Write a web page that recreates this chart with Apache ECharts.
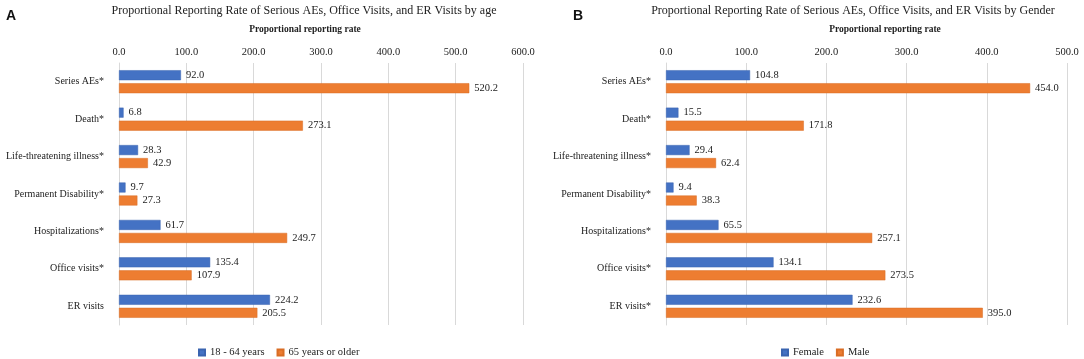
<!DOCTYPE html>
<html>
<head>
<meta charset="utf-8">
<script src="https://cdn.jsdelivr.net/npm/echarts@6/dist/echarts.min.js"></script>
<style>html,body{margin:0;padding:0;background:#fff;}#c{width:1084px;height:359px;}</style>
</head>
<body>
<div id="c"></div>
<script>
const categoriesA = ['Series AEs*', 'Death*', 'Life-threatening illness*', 'Permanent Disability*', 'Hospitalizations*', 'Office visits*', 'ER visits'];
const categoriesB = ['Series AEs*', 'Death*', 'Life-threatening illness*', 'Permanent Disability*', 'Hospitalizations*', 'Office visits*', 'ER visits*'];
const age18to64 = [92.0, 6.8, 28.3, 9.7, 61.7, 135.4, 224.2];
const age65plus = [520.2, 273.1, 42.9, 27.3, 249.7, 107.9, 205.5];
const female = [104.8, 15.5, 29.4, 9.4, 65.5, 134.1, 232.6];
const male = [454.0, 171.8, 62.4, 38.3, 257.1, 273.5, 395.0];
const ticksA = [0, 100, 200, 300, 400, 500, 600];
const ticksB = [0, 100, 200, 300, 400, 500];

const serif = 'Liberation Serif';
const blue = '#4472C4', orange = '#ED7D31';
const txt = '#222';

function xAx(idx, ticks) {
  return {
    type: 'value', gridIndex: idx, position: 'top', min: ticks[0], max: ticks[ticks.length - 1], interval: ticks[1] - ticks[0],
    axisLine: {show: false}, axisTick: {show: false},
    axisLabel: {fontFamily: serif, fontSize: 10.5, color: txt, margin: 5, formatter: v => v.toFixed(1)},
    splitLine: {lineStyle: {color: '#d9d9d9', width: 1}}
  };
}
function yAx(idx, cats) {
  return {
    type: 'category', gridIndex: idx, data: cats, inverse: true,
    axisLine: {show: true, lineStyle: {color: '#d9d9d9'}}, axisTick: {show: false},
    axisLabel: {fontFamily: serif, fontSize: 10, color: txt, margin: 15}
  };
}
function bar(name, data, color, idx) {
  return {
    name: name, type: 'bar', xAxisIndex: idx, yAxisIndex: idx, data: data,
    barWidth: 10, barGap: '30%',
    itemStyle: {color: color, borderColor: color === blue ? '#3a64b0' : '#d96d24', borderWidth: 0.5},
    label: {show: true, position: 'right', distance: 5, fontFamily: serif, fontSize: 10.5, color: txt,
      formatter: p => p.value.toFixed(1)}
  };
}

const chart = echarts.init(document.getElementById('c'), null, {renderer: 'canvas'});
chart.setOption({
  animation: false,
  backgroundColor: '#fff',
  title: [
    {text: 'A', left: 1, top: 4, textStyle: {fontFamily: 'Liberation Sans', fontWeight: 'bold', fontSize: 14, color: '#111'}},
    {text: 'B', left: 568, top: 4, textStyle: {fontFamily: 'Liberation Sans', fontWeight: 'bold', fontSize: 14, color: '#111'}},
    {text: 'Proportional Reporting Rate of Serious AEs, Office Visits, and ER Visits by age', left: 299, textAlign: 'center', top: 0,
      textStyle: {fontFamily: serif, fontWeight: 'normal', fontSize: 12, color: txt}},
    {text: 'Proportional Reporting Rate of Serious AEs, Office Visits, and ER Visits by Gender', left: 848, textAlign: 'center', top: 0,
      textStyle: {fontFamily: serif, fontWeight: 'normal', fontSize: 12, color: txt}},
    {text: 'Proportional reporting rate', left: 300, textAlign: 'center', top: 20,
      textStyle: {fontFamily: serif, fontWeight: 'bold', fontSize: 9.5, color: txt}},
    {text: 'Proportional reporting rate', left: 880, textAlign: 'center', top: 20,
      textStyle: {fontFamily: serif, fontWeight: 'bold', fontSize: 9.5, color: txt}}
  ],
  legend: [
    {data: ['18 - 64 years', '65 years or older'], left: 193, top: 342,
      itemWidth: 6, itemHeight: 6, itemGap: 12, icon: 'rect',
      textStyle: {fontFamily: serif, fontSize: 10.5, color: txt}},
    {data: ['Female', 'Male'], left: 776, top: 342,
      itemWidth: 6, itemHeight: 6, itemGap: 12, icon: 'rect',
      textStyle: {fontFamily: serif, fontSize: 10.5, color: txt}}
  ],
  grid: [
    {left: 119, top: 63, width: 404, height: 262, containLabel: false},
    {left: 666, top: 63, width: 401, height: 262, containLabel: false}
  ],
  xAxis: [xAx(0, ticksA), xAx(1, ticksB)],
  yAxis: [yAx(0, categoriesA), yAx(1, categoriesB)],
  series: [
    bar('18 - 64 years', age18to64, blue, 0),
    bar('65 years or older', age65plus, orange, 0),
    bar('Female', female, blue, 1),
    bar('Male', male, orange, 1)
  ]
});
</script>
</body>
</html>
